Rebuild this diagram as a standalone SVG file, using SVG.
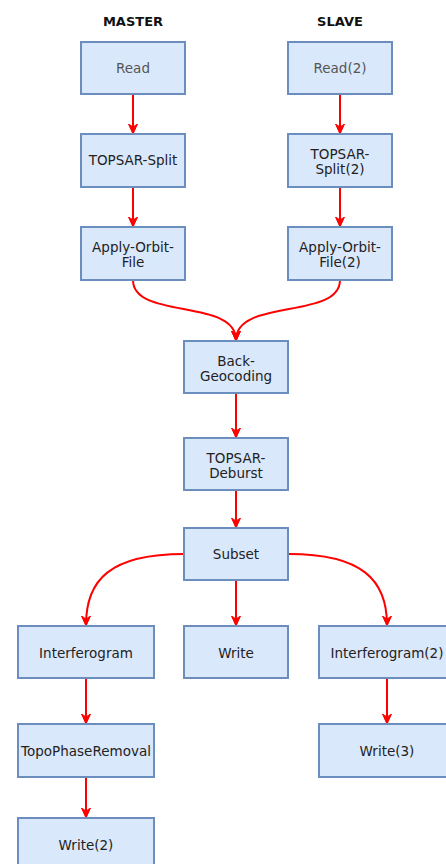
<svg xmlns="http://www.w3.org/2000/svg" width="446" height="864" viewBox="0 0 446 864">
  <style>
    .box { fill: #dae8fc; stroke: #6c8ebf; stroke-width: 2; }
    .lbl { font-family: "DejaVu Sans", Verdana, sans-serif; font-size: 13.5px; fill: #222; text-anchor: middle; }
    .dim { fill: #555; }
    .head { font-family: "DejaVu Sans", Verdana, sans-serif; font-size: 13px; font-weight: bold; fill: #111; text-anchor: middle; }
    .edge { fill: none; stroke: #ff0000; stroke-width: 2; marker-end: url(#arrow); }
  </style>
  <defs>
    <marker id="arrow" viewBox="0 0 10 10" refX="9" refY="5" markerWidth="10" markerHeight="10" orient="auto" markerUnits="userSpaceOnUse">
      <path d="M0,0.5 L10,5 L0,9.5 L3,5 Z" fill="#ff0000" stroke="#ff0000" stroke-width="1"/>
    </marker>
  </defs>

  <text class="head" x="133" y="26">MASTER</text>
  <text class="head" x="340" y="26">SLAVE</text>

  <g id="connectors">
    <path class="edge" d="M133,94 L133,133"/>
    <path class="edge" d="M133,187 L133,226"/>
    <path class="edge" d="M340,94 L340,133"/>
    <path class="edge" d="M340,187 L340,226"/>
    <path class="edge" d="M133,280 C133,320 236,298 236,340"/>
    <path class="edge" d="M340,280 C340,320 236,298 236,340"/>
    <path class="edge" d="M236,393 L236,437"/>
    <path class="edge" d="M236,490 L236,527"/>
    <path class="edge" d="M184,554 C110,554 86,580 86,625"/>
    <path class="edge" d="M236,580 L236,625"/>
    <path class="edge" d="M289,554 C362,554 387,580 387,625"/>
    <path class="edge" d="M86,678 L86,723"/>
    <path class="edge" d="M86,777 L86,817"/>
    <path class="edge" d="M387,678 L387,723"/>
  </g>

  <g id="read">
    <rect class="box" x="81" y="42" width="104" height="52"/>
    <text class="lbl dim" x="133" y="73">Read</text>
  </g>
  <g id="read2">
    <rect class="box" x="288" y="42" width="104" height="52"/>
    <text class="lbl dim" x="340" y="73">Read(2)</text>
  </g>
  <g id="split">
    <rect class="box" x="81" y="134" width="104" height="53"/>
    <text class="lbl" x="133" y="165">TOPSAR-Split</text>
  </g>
  <g id="split2">
    <rect class="box" x="288" y="134" width="104" height="53"/>
    <text class="lbl" x="340" y="159">TOPSAR-</text>
    <text class="lbl" x="340" y="174">Split(2)</text>
  </g>
  <g id="orbit">
    <rect class="box" x="81" y="227" width="104" height="53"/>
    <text class="lbl" x="133" y="252">Apply-Orbit-</text>
    <text class="lbl" x="133" y="267">File</text>
  </g>
  <g id="orbit2">
    <rect class="box" x="288" y="227" width="104" height="53"/>
    <text class="lbl" x="340" y="252">Apply-Orbit-</text>
    <text class="lbl" x="340" y="267">File(2)</text>
  </g>
  <g id="backgeo">
    <rect class="box" x="184" y="341" width="104" height="52"/>
    <text class="lbl" x="236" y="366">Back-</text>
    <text class="lbl" x="236" y="381">Geocoding</text>
  </g>
  <g id="deburst">
    <rect class="box" x="184" y="438" width="104" height="52"/>
    <text class="lbl" x="236" y="463">TOPSAR-</text>
    <text class="lbl" x="236" y="478">Deburst</text>
  </g>
  <g id="subset">
    <rect class="box" x="184" y="528" width="104" height="52"/>
    <text class="lbl" x="236" y="559">Subset</text>
  </g>
  <g id="interf">
    <rect class="box" x="18" y="626" width="136" height="52"/>
    <text class="lbl" x="86" y="658">Interferogram</text>
  </g>
  <g id="write">
    <rect class="box" x="184" y="626" width="104" height="52"/>
    <text class="lbl" x="236" y="658">Write</text>
  </g>
  <g id="interf2">
    <rect class="box" x="319" y="626" width="136" height="52"/>
    <text class="lbl" x="387" y="658">Interferogram(2)</text>
  </g>
  <g id="topo">
    <rect class="box" x="18" y="724" width="136" height="53"/>
    <text class="lbl" x="86" y="756">TopoPhaseRemoval</text>
  </g>
  <g id="write3">
    <rect class="box" x="319" y="724" width="136" height="53"/>
    <text class="lbl" x="387" y="756">Write(3)</text>
  </g>
  <g id="write2">
    <rect class="box" x="18" y="818" width="136" height="53"/>
    <text class="lbl" x="86" y="850">Write(2)</text>
  </g>
</svg>
